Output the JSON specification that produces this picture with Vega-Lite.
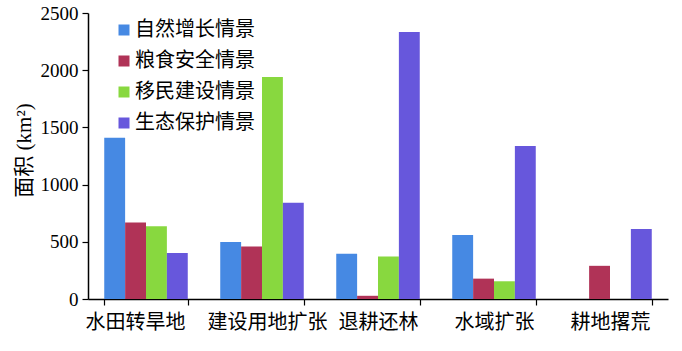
{
  "$schema": "https://vega.github.io/schema/vega-lite/v6.json",
  "width": 580,
  "height": 286,
  "autosize": {"type": "none"},
  "padding": {"left": 88, "top": 13, "right": 14, "bottom": 52},
  "background": "white",
  "config": {
    "view": {"stroke": null},
    "font": "Liberation Serif, Noto Sans CJK SC"
  },
  "data": {
    "values": [
      {"type": "水田转旱地", "scenario": "自然增长情景", "area": 1410},
      {"type": "水田转旱地", "scenario": "粮食安全情景", "area": 668},
      {"type": "水田转旱地", "scenario": "移民建设情景", "area": 635},
      {"type": "水田转旱地", "scenario": "生态保护情景", "area": 403},
      {"type": "建设用地扩张", "scenario": "自然增长情景", "area": 498},
      {"type": "建设用地扩张", "scenario": "粮食安全情景", "area": 458},
      {"type": "建设用地扩张", "scenario": "移民建设情景", "area": 1940},
      {"type": "建设用地扩张", "scenario": "生态保护情景", "area": 842},
      {"type": "退耕还林", "scenario": "自然增长情景", "area": 395},
      {"type": "退耕还林", "scenario": "粮食安全情景", "area": 28},
      {"type": "退耕还林", "scenario": "移民建设情景", "area": 372},
      {"type": "退耕还林", "scenario": "生态保护情景", "area": 2335},
      {"type": "水域扩张", "scenario": "自然增长情景", "area": 560},
      {"type": "水域扩张", "scenario": "粮食安全情景", "area": 178},
      {"type": "水域扩张", "scenario": "移民建设情景", "area": 155},
      {"type": "水域扩张", "scenario": "生态保护情景", "area": 1338},
      {"type": "耕地撂荒", "scenario": "粮食安全情景", "area": 290},
      {"type": "耕地撂荒", "scenario": "生态保护情景", "area": 612}
    ]
  },
  "mark": {"type": "bar"},
  "encoding": {
    "x": {
      "field": "type",
      "type": "nominal",
      "sort": ["水田转旱地", "建设用地扩张", "退耕还林", "水域扩张", "耕地撂荒"],
      "scale": {"paddingInner": 0.28, "paddingOuter": 0.14},
      "axis": {
        "title": null,
        "labelAngle": 0,
        "labelFontSize": 20,
        "labelColor": "black",
        "labelPadding": 7,
        "labelOffset": {"condition": [{"test": "datum.value == '水田转旱地'", "value": -11}, {"test": "datum.value == '建设用地扩张'", "value": 5}], "value": 0},
        "domainColor": "black",
        "domainWidth": 1.5,
        "tickColor": "black",
        "tickBand": "extent",
        "tickSize": 6,
        "tickWidth": 1.2,
        "labelFont": "Noto Sans CJK SC"
      }
    },
    "xOffset": {
      "field": "scenario",
      "type": "nominal",
      "scale": {"domain": ["自然增长情景", "粮食安全情景", "移民建设情景", "生态保护情景"], "paddingInner": 0, "paddingOuter": 0}
    },
    "y": {
      "field": "area",
      "type": "quantitative",
      "scale": {"domain": [0, 2500], "nice": false},
      "axis": {
        "title": "面积 (km²)",
        "titleFontSize": 21,
        "titleFontWeight": "normal",
        "titleColor": "black",
        "titlePadding": 6,
        "titleY": 137,
        "values": [0, 500, 1000, 1500, 2000, 2500],
        "format": "d",
        "grid": false,
        "labelFontSize": 19,
        "labelColor": "black",
        "labelPadding": 4,
        "domainColor": "black",
        "domainWidth": 1.5,
        "tickColor": "black",
        "tickSize": 6,
        "tickWidth": 1.2
      }
    },
    "color": {
      "field": "scenario",
      "type": "nominal",
      "scale": {
        "domain": ["自然增长情景", "粮食安全情景", "移民建设情景", "生态保护情景"],
        "range": ["#4689e3", "#b03357", "#88d83f", "#6757dc"]
      },
      "legend": {
        "title": null,
        "orient": "none",
        "legendX": 26,
        "legendY": 7,
        "symbolType": "square",
        "symbolSize": 121,
        "symbolStrokeWidth": 0,
        "labelFontSize": 20,
        "labelFont": "Noto Sans CJK SC",
        "labelColor": "black",
        "rowPadding": 11,
        "labelOffset": 1
      }
    }
  }
}
